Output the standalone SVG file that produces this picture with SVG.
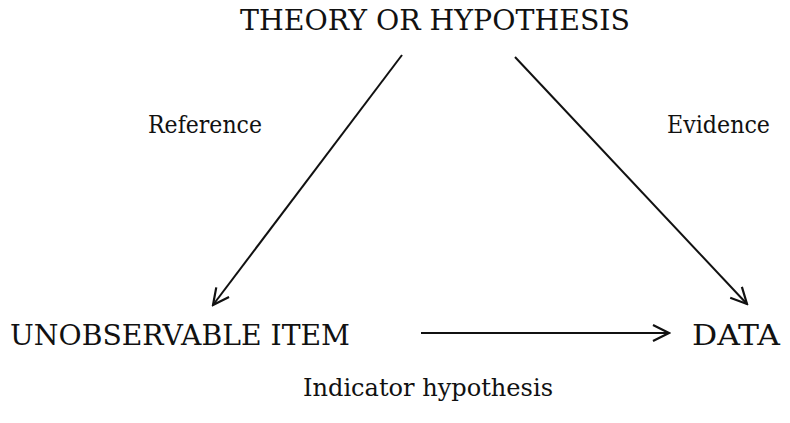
<svg xmlns="http://www.w3.org/2000/svg" width="790" height="423" viewBox="0 0 790 423">
<defs>
<style>
text{font-family:"DejaVu Serif","Liberation Serif","Times New Roman",serif;fill:#111;font-size:28px;}
.lab{font-size:25px;}
.ln{stroke:#111;stroke-width:2;fill:none;}
</style>
<marker id="ah" viewBox="0 0 20 20" refX="18" refY="10" markerWidth="20" markerHeight="20" markerUnits="userSpaceOnUse" orient="auto">
<path d="M2,2 L18,10 L2,18" fill="none" stroke="#111" stroke-width="2.2"/>
</marker>
</defs>
<rect width="790" height="423" fill="#fff"/>
<g id="n-theory"><text x="240" y="30" textLength="390" lengthAdjust="spacingAndGlyphs">THEORY OR HYPOTHESIS</text></g>
<g id="n-item"><text x="10" y="345" textLength="340" lengthAdjust="spacingAndGlyphs">UNOBSERVABLE ITEM</text></g>
<g id="n-data"><text x="692" y="345" textLength="88" lengthAdjust="spacingAndGlyphs">DATA</text></g>
<g id="connectors">
<line class="ln" x1="402" y1="55" x2="213" y2="305" marker-end="url(#ah)"/>
<line class="ln" x1="515" y1="57" x2="747" y2="304" marker-end="url(#ah)"/>
<line class="ln" x1="421" y1="333" x2="669" y2="333" marker-end="url(#ah)"/>
<text class="lab" x="148" y="133" textLength="114" lengthAdjust="spacingAndGlyphs">Reference</text>
<text class="lab" x="667" y="133" textLength="103" lengthAdjust="spacingAndGlyphs">Evidence</text>
<text class="lab" x="303" y="396" textLength="250" lengthAdjust="spacingAndGlyphs">Indicator hypothesis</text>
</g>
</svg>
